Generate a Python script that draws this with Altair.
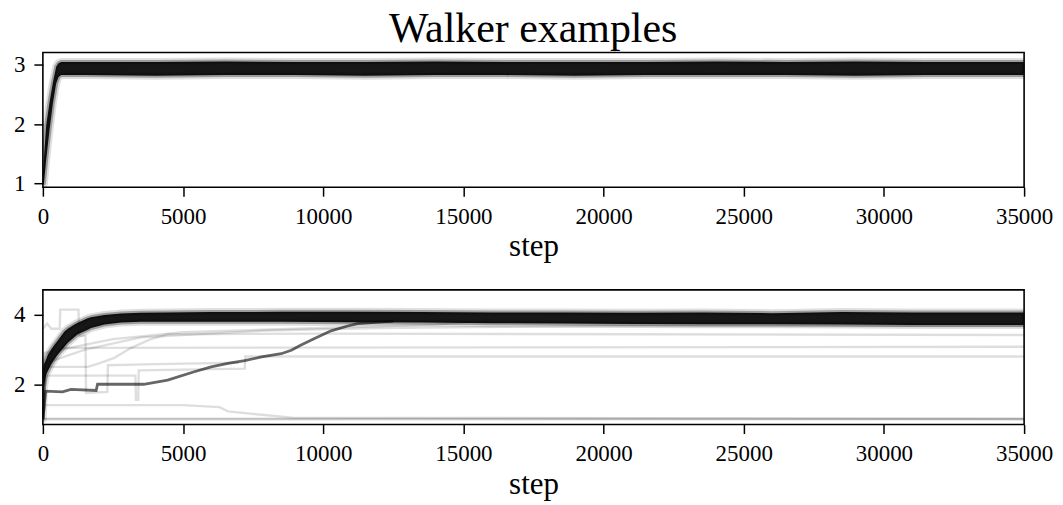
import altair as alt
import pandas as pd

# ---------------------------------------------------------------------------
# Walker traces, top model: the ensemble forms one dense band.
# Core envelope of the band (lower / upper edge) at each step.
TOP_STEPS = [0, 36, 118, 237, 356, 474, 557, 652, 1500, 4000, 6500, 9000,
             11500, 14000, 16500, 19000, 21500, 24000, 26500, 29000, 31500,
             34000, 35000]
TOP_HI = [1.20, 1.43, 1.98, 2.37, 2.70, 2.97, 3.03, 3.05, 3.05, 3.05, 3.06,
          3.05, 3.05, 3.06, 3.05, 3.05, 3.05, 3.06, 3.05, 3.06, 3.05, 3.05,
          3.05]
TOP_LO = [1.00, 1.00, 1.40, 1.91, 2.35, 2.69, 2.80, 2.83, 2.83, 2.82, 2.83,
          2.83, 2.82, 2.83, 2.83, 2.82, 2.83, 2.83, 2.83, 2.82, 2.83, 2.83,
          2.83]

# ---------------------------------------------------------------------------
# Walker traces, bottom model: dense band plus a number of slow walkers.
BOT_STEPS = [0, 36, 118, 178, 296, 415, 534, 771, 889, 1127, 1245, 1600,
             1719, 2193, 2786, 3500, 4446, 6000, 8500, 11000, 13500, 16000,
             18500, 21000, 23500, 26000, 28500, 31000, 33500, 35000]
BOT_HI = [2.45, 2.57, 2.72, 2.85, 3.00, 3.14, 3.26, 3.52, 3.60, 3.72, 3.77,
          3.90, 3.93, 4.00, 4.04, 4.06, 4.07, 4.08, 4.09, 4.09, 4.08, 4.07,
          4.07, 4.06, 4.07, 4.05, 4.08, 4.07, 4.07, 4.07]
BOT_LO = [1.00, 1.90, 2.28, 2.38, 2.57, 2.72, 2.86, 3.08, 3.20, 3.36, 3.44,
          3.57, 3.62, 3.72, 3.78, 3.80, 3.80, 3.80, 3.80, 3.79, 3.78, 3.76,
          3.75, 3.74, 3.73, 3.73, 3.72, 3.71, 3.71, 3.71]

# Slow walker that climbs out of the 2.0 region into the band
DARK_STEPS = [0, 100, 700, 1000, 1900, 1950, 3600, 4450, 5400, 6000, 6600,
              7200, 7800, 8500, 8860, 9210, 9690, 10280, 10870, 11230, 12500]
DARK_VALS = [1.00, 1.80, 1.78, 1.85, 1.82, 2.00, 2.00, 2.12, 2.36, 2.50,
             2.60, 2.68, 2.79, 2.88, 2.98, 3.13, 3.32, 3.54, 3.68, 3.75, 3.82]

# Faint walkers: (name, steps, values)
FAINT = [
    ("w_308", [0, 60, 400, 35000], [1.00, 2.20, 3.05, 3.08]),
    ("w_280", [0, 100, 3300, 3320, 3400, 3420, 7200, 7220, 35000],
     [1.00, 2.25, 2.25, 1.55, 1.55, 2.40, 2.45, 2.80, 2.80]),
    ("w_342", [0, 100, 1600, 2000, 2550, 3150, 3850, 4450, 10000, 35000],
     [1.00, 2.50, 2.50, 2.60, 2.76, 3.05, 3.30, 3.44, 3.46, 3.42]),
    ("w_box", [0, 150, 300, 600, 620, 1270, 1290, 1520, 1540, 2300, 2320,
               4000, 7000],
     [3.60, 3.75, 3.60, 3.60, 4.15, 4.15, 3.40, 3.40, 1.75, 1.78, 2.55,
      2.58, 2.62]),
    ("w_fall", [0, 80, 5000, 6300, 6600, 7800, 8900, 35000],
     [1.00, 1.40, 1.40, 1.34, 1.22, 1.12, 1.04, 1.00]),
    ("w_floor_a", [0, 35000], [0.99, 0.99]),
    ("w_floor_b", [0, 35000], [1.01, 1.01]),
    ("w_join_a", [0, 50, 2500, 5000, 9000, 14000, 16000],
     [1.00, 2.90, 3.30, 3.50, 3.60, 3.72, 3.85]),
    ("w_join_b", [0, 80, 1500, 3500, 8000, 12000, 20000, 35000],
     [1.00, 2.60, 3.00, 3.35, 3.55, 3.62, 3.68, 3.68]),
]

X_TICKS = [0, 5000, 10000, 15000, 20000, 25000, 30000, 35000]
TOP_Y_TICKS = [1, 2, 3]
BOT_Y_TICKS = [2, 4]

top_df = pd.DataFrame({"step": TOP_STEPS, "hi": TOP_HI, "lo": TOP_LO})
bot_df = pd.DataFrame({"step": BOT_STEPS, "hi": BOT_HI, "lo": BOT_LO})
dark_df = pd.DataFrame({"step": DARK_STEPS, "value": DARK_VALS})
faint_df = pd.concat(
    [pd.DataFrame({"walker": name, "step": s, "value": v}) for name, s, v in FAINT],
    ignore_index=True,
)

FONT = "Liberation Serif"
W, H = 984, 135


def x_enc():
    return alt.X(
        "step:Q",
        scale=alt.Scale(domain=[0, 35000], nice=False, zero=False),
        axis=alt.Axis(values=X_TICKS, format="d", title="step", labelFlush=False),
    )


def band(df, domain, ticks):
    y = alt.Y(
        "hi:Q",
        scale=alt.Scale(domain=domain, nice=False, zero=False),
        axis=alt.Axis(values=ticks, title=None, labelFlush=False),
    )
    halo = alt.Chart(df).mark_area(
        clip=True, fill="black", fillOpacity=0.0, stroke="black",
        strokeOpacity=0.12, strokeWidth=8, strokeJoin="round",
    ).encode(x=x_enc(), y=y, y2="lo:Q")
    core = alt.Chart(df).mark_area(
        clip=True, fill="#0b0b0b", fillOpacity=0.95, stroke="black",
        strokeOpacity=0.3, strokeWidth=4, strokeJoin="round",
    ).encode(x=x_enc(), y=y, y2="lo:Q")
    return halo + core


top = band(top_df, [0.94, 3.21], TOP_Y_TICKS).properties(width=W, height=H)

bot_scale = alt.Scale(domain=[0.84, 4.72], nice=False, zero=False)
faint = alt.Chart(faint_df).mark_line(
    clip=True, color="black", opacity=0.13, strokeWidth=2.4
).encode(
    x=x_enc(),
    y=alt.Y("value:Q", scale=bot_scale,
            axis=alt.Axis(values=BOT_Y_TICKS, title=None, labelFlush=False)),
    detail="walker:N",
)
dark = alt.Chart(dark_df).mark_line(
    clip=True, color="black", opacity=0.6, strokeWidth=2.8
).encode(x=x_enc(), y=alt.Y("value:Q", scale=bot_scale))
bottom = (faint + dark + band(bot_df, [0.84, 4.72], BOT_Y_TICKS)).properties(
    width=W, height=H
)

chart = (
    alt.vconcat(top, bottom, spacing=26)
    .properties(
        title=alt.TitleParams(
            "Walker examples", font=FONT, fontSize=42, fontWeight="normal",
            color="black", anchor="middle", offset=1,
        ),
        padding={"left": 12, "right": 9, "top": 7, "bottom": 5},
        background="white",
    )
    .configure_view(stroke="black", strokeWidth=1.6)
    .configure_axis(
        domain=False, grid=False, ticks=True, tickColor="black", tickWidth=1.5,
        tickSize=9, labelFont=FONT, labelFontSize=23, labelColor="black",
        labelPadding=9, titleFont=FONT, titleFontSize=31,
        titleFontWeight="normal", titleColor="black", titlePadding=4,
    )
)

chart.save("out.html", embed_options={"renderer": "svg", "actions": False})
